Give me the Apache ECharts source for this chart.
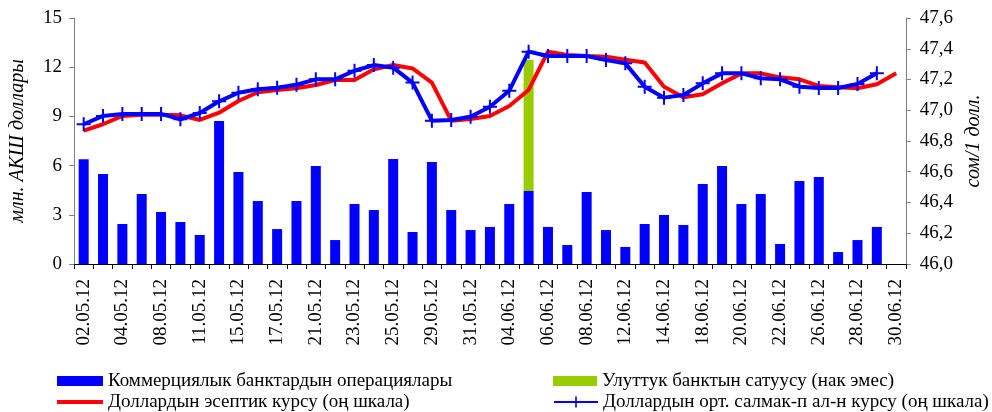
<!DOCTYPE html>
<html>
<head>
<meta charset="utf-8">
<script src="https://cdn.jsdelivr.net/npm/echarts@6/dist/echarts.min.js"></script>
<style>html,body{margin:0;padding:0;background:#fff}#c{width:992px;height:412px}</style>
</head>
<body>
<div id="c"></div>
<script>
var dates = ['02.05.12','03.05.12','04.05.12','07.05.12','08.05.12','10.05.12','11.05.12','14.05.12','15.05.12','16.05.12','17.05.12','18.05.12','21.05.12','22.05.12','23.05.12','24.05.12','25.05.12','28.05.12','29.05.12','30.05.12','31.05.12','01.06.12','04.06.12','05.06.12','06.06.12','07.06.12','08.06.12','11.06.12','12.06.12','13.06.12','14.06.12','15.06.12','18.06.12','19.06.12','20.06.12','21.06.12','22.06.12','25.06.12','26.06.12','27.06.12','28.06.12','29.06.12','30.06.12'];
var commercial = [6.38,5.49,2.44,4.27,3.17,2.56,1.77,8.72,5.61,3.84,2.13,3.84,5.98,1.46,3.66,3.29,6.40,1.95,6.22,3.29,2.07,2.26,3.66,4.45,2.26,1.16,4.39,2.07,1.04,2.44,2.99,2.38,4.88,5.98,3.66,4.27,1.22,5.06,5.30,0.73,1.46,2.26,null];
var nbkrSales = [null,null,null,null,null,null,null,null,null,null,null,null,null,null,null,null,null,null,null,null,null,null,null,8.0,null,null,null,null,null,null,null,null,null,null,null,null,null,null,null,null,null,null,null];
var officialRate = [46.867,46.909,46.963,46.971,46.971,46.967,46.937,46.984,47.060,47.117,47.132,47.143,47.164,47.197,47.197,47.266,47.294,47.272,47.180,46.932,46.943,46.963,47.028,47.132,47.381,47.359,47.353,47.348,47.329,47.310,47.153,47.084,47.104,47.175,47.240,47.240,47.214,47.201,47.158,47.149,47.143,47.169,47.240];
var weightedRate = [46.909,46.963,46.976,46.976,46.976,46.941,46.982,47.058,47.114,47.136,47.147,47.166,47.201,47.201,47.257,47.294,47.277,47.180,46.932,46.937,46.958,47.023,47.127,47.381,47.353,47.353,47.353,47.327,47.305,47.153,47.082,47.099,47.175,47.240,47.240,47.208,47.201,47.153,47.145,47.145,47.171,47.240];
var seriesNames = ['Коммерциялык банктардын операциялары','Улуттук банктын сатуусу (нак эмес)','Доллардын эсептик курсу (оң шкала)','Доллардын орт. салмак-п ал-н курсу (оң шкала)'];
var leftAxisName = 'млн. АКШ доллары';
var rightAxisName = 'сом/1 долл.';

var FONT = '"Liberation Serif","Times New Roman",serif';
var plus = 'path://M-1,-7 L1,-7 L1,-1 L7,-1 L7,1 L1,1 L1,7 L-1,7 L-1,1 L-7,1 L-7,-1 L-1,-1 Z';
var chart = echarts.init(document.getElementById('c'), null, {renderer:'canvas'});
var legendText = {fontFamily: FONT, fontSize: 19, color: '#000', lineHeight: 20};
function leg(left, top, name, icon, w, h) {
  return {left: left, top: top, itemWidth: w, itemHeight: h, itemGap: 0, padding: 0,
    textStyle: legendText, data: [icon ? {name: name, icon: icon} : name]};
}
chart.setOption({
  animation: false,
  backgroundColor: '#fff',
  textStyle: {fontFamily: FONT},
  grid: {left: 65, right: 83, top: 18, bottom: 148},
  legend: [
    leg(57, 371, seriesNames[0], 'rect', 46, 10),
    leg(57, 392, seriesNames[2], 'rect', 46, 4),
    leg(553, 371, seriesNames[1], 'rect', 44, 10),
    leg(553, 392, seriesNames[3], null, 44, 14)
  ],
  xAxis: {
    type: 'category', data: dates, boundaryGap: true,
    axisLine: {lineStyle: {color: '#000', width: 1}},
    axisTick: {show: true, interval: 0, length: 5, lineStyle: {color: '#000'}},
    axisLabel: {interval: 1, rotate: 90, margin: 15, fontFamily: FONT, fontSize: 19, color: '#000'}
  },
  yAxis: [
    {type: 'value', min: 0, max: 15, interval: 3, position: 'left',
     name: leftAxisName, nameLocation: 'middle', nameRotate: 90, nameGap: 46,
     nameTextStyle: {fontFamily: FONT, fontSize: 20, fontStyle: 'italic', color: '#000'},
     axisLine: {show: true, lineStyle: {color: '#808080'}},
     axisTick: {show: true, length: 5, lineStyle: {color: '#808080'}},
     splitLine: {show: false},
     axisLabel: {fontFamily: FONT, fontSize: 19, color: '#000', margin: 12}},
    {type: 'value', min: 46, max: 47.6, interval: 0.2, position: 'right',
     name: rightAxisName, nameLocation: 'middle', nameRotate: 90, nameGap: 54,
     nameTextStyle: {fontFamily: FONT, fontSize: 20, fontStyle: 'italic', color: '#000'},
     axisLine: {show: true, lineStyle: {color: '#808080'}},
     axisTick: {show: true, length: 5, lineStyle: {color: '#808080'}},
     splitLine: {show: false},
     axisLabel: {fontFamily: FONT, fontSize: 19, color: '#000', margin: 14,
       formatter: function(v){ return v.toFixed(1).replace('.', ','); }}}
  ],
  series: [
    {name: seriesNames[0], type: 'bar', stack: 'ops', data: commercial, barWidth: 10,
     itemStyle: {color: '#0000ff'}},
    {name: seriesNames[1], type: 'bar', stack: 'ops', data: nbkrSales, barWidth: 10,
     itemStyle: {color: '#99cc00'}},
    {name: seriesNames[2], type: 'line', yAxisIndex: 1, data: officialRate, symbol: 'none',
     lineStyle: {color: '#ff0000', width: 4}, itemStyle: {color: '#ff0000'}},
    {name: seriesNames[3], type: 'line', yAxisIndex: 1, data: weightedRate, symbol: plus, symbolSize: 14,
     showAllSymbol: true,
     lineStyle: {color: '#0000ff', width: 4}, itemStyle: {color: '#0000ff'}}
  ]
});
</script>
</body>
</html>
